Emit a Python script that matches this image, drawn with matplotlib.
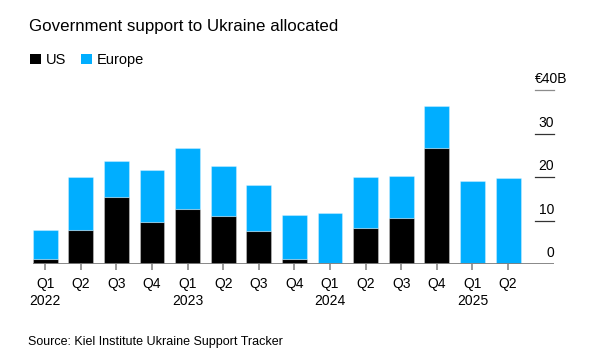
import numpy as np
import matplotlib
matplotlib.use("Agg")
import matplotlib.pyplot as plt
from matplotlib.patches import Patch
import matplotlib.transforms as mtransforms

plt.rcParams['font.family'] = ['Liberation Sans', 'DejaVu Sans']

# Data (EUR billions)
quarters = ['Q1', 'Q2', 'Q3', 'Q4', 'Q1', 'Q2', 'Q3', 'Q4',
            'Q1', 'Q2', 'Q3', 'Q4', 'Q1', 'Q2']
years = ['2022', '', '', '', '2023', '', '', '',
         '2024', '', '', '', '2025', '']
us = [1.2, 7.9, 15.5, 9.8, 12.6, 11.0, 7.6, 1.2, 0.2, 8.3, 10.6, 26.7, 0.3, 0.0]
total = [8.0, 20.0, 23.7, 21.6, 26.7, 22.6, 18.2, 11.3, 11.7, 20.1, 20.2, 36.5, 19.1, 19.9]
europe = [t - u for t, u in zip(total, us)]
yticks = [0, 10, 20, 30, 40]

black = '#000000'
blue = '#00AEFF'

fig = plt.figure(figsize=(5.93, 3.60), dpi=100)
ax = fig.add_axes([32.7 / 593, 1 - 264.3 / 360, (554 - 32.7) / 593, (264.3 - 90.3) / 360])

x = np.arange(len(quarters))
edge = (1, 1, 1, 0.3)
ax.bar(x, us, width=0.7, color=black, edgecolor=edge, linewidth=0.8, zorder=2)
ax.bar(x, europe, bottom=us, width=0.7, color=blue, edgecolor=edge, linewidth=0.8, zorder=2)

ax.set_xlim(-0.35, 14.29)
ax.set_ylim(0, 40)

for s in ax.spines.values():
    s.set_visible(False)

# short gridlines on the right with labels above them
x0 = (535 - 32.7) / (554 - 32.7)
trans = mtransforms.blended_transform_factory(ax.transAxes, ax.transData)
for v in yticks:
    if v == 0:
        ax.axhline(0, color='#7f7f7f', linewidth=1.3, zorder=3)
    else:
        c = '#8c8c8c' if v == 40 else '#333333'
        ax.plot([x0, 1], [v, v], transform=trans, color=c, linewidth=0.9,
                clip_on=False, zorder=3)
    if v == 40:
        ax.annotate('€40B', xy=((567 - 32.7) / 521.3, v), xycoords=trans, xytext=(0, 5),
                    textcoords='offset points', ha='right', va='baseline', fontsize=10)
    else:
        ax.annotate(str(v), xy=(1, v), xycoords=trans, xytext=(0, 5),
                    textcoords='offset points', ha='right', va='baseline', fontsize=10)

ax.set_yticks([])
ax.set_xticks(x)
ax.set_xticklabels([q + '\n' + y for q, y in zip(quarters, years)],
                   fontsize=10, linespacing=1.25)
ax.tick_params(axis='x', length=4.5, width=1.1, color='#7f7f7f', pad=5)

fig.text(29 / 593, 1 - 31 / 360, 'Government support to Ukraine allocated',
         fontsize=12.2, va='baseline')
fig.text(28 / 593, 1 - 345 / 360, 'Source: Kiel Institute Ukraine Support Tracker',
         fontsize=9.0, va='baseline')

handles = [Patch(facecolor=black, label='US'), Patch(facecolor=blue, label='Europe')]
fig.legend(handles=handles, loc='center left', bbox_to_anchor=(24 / 593, 1 - 60 / 360),
           ncol=2, frameon=False, fontsize=10.5, handlelength=0.75, handleheight=0.75,
           handletextpad=0.35, columnspacing=1.0, borderaxespad=0)

fig.savefig('out.png', dpi=100)
